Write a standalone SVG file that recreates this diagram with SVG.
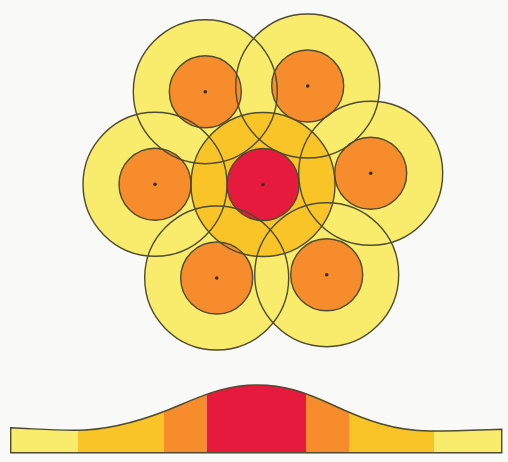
<svg xmlns="http://www.w3.org/2000/svg" width="508" height="462" viewBox="0 0 508 462">
<style>
.ln{stroke:#4f4b2e;stroke-width:1.4;fill:none}
.y{fill:#f9ec6c}
.g{fill:#f8c428}
.o{fill:#f68c2c}
.r{fill:#e61a3c}
.dot{fill:#3b2a1e}
</style>
<defs>
<path id="bellpath" d="M10.7,427.7 C40,429 60,431 85,430 C120,428 150,418 180,405 C210,392 230,385 257,385 C285,385 305,392 335,406 C365,420 395,431 430,431 C460,431 480,430 501.7,429.3 L501.7,452.7 L10.7,452.7 Z"/>
<clipPath id="bell"><use href="#bellpath"/></clipPath>
</defs>
<rect width="508" height="462" fill="#f9f9f8"/>
<g id="zones">
<circle class="y" cx="205.3" cy="91.7" r="72"/>
<circle class="y" cx="307.7" cy="86" r="72"/>
<circle class="y" cx="155" cy="184.3" r="72"/>
<circle class="y" cx="370.7" cy="173.3" r="72"/>
<circle class="y" cx="216.7" cy="278" r="72"/>
<circle class="y" cx="326.7" cy="274.7" r="72"/>
<circle class="g" cx="263" cy="184.5" r="72"/>
</g>
<g id="node-tl"><circle class="o" cx="205.3" cy="91.7" r="36"/></g>
<g id="node-tr"><circle class="o" cx="307.7" cy="86" r="36"/></g>
<g id="node-l"><circle class="o" cx="155" cy="184.3" r="36"/></g>
<g id="node-r"><circle class="o" cx="370.7" cy="173.3" r="36"/></g>
<g id="node-bl"><circle class="o" cx="216.7" cy="278" r="36"/></g>
<g id="node-br"><circle class="o" cx="326.7" cy="274.7" r="36"/></g>
<g id="node-center"><circle class="r" cx="263" cy="184.5" r="36"/></g>
<g id="connectors"></g>
<g id="outlines">
<circle class="ln" cx="205.3" cy="91.7" r="72"/>
<circle class="ln" cx="307.7" cy="86" r="72"/>
<circle class="ln" cx="155" cy="184.3" r="72"/>
<circle class="ln" cx="370.7" cy="173.3" r="72"/>
<circle class="ln" cx="216.7" cy="278" r="72"/>
<circle class="ln" cx="326.7" cy="274.7" r="72"/>
<circle class="ln" cx="263" cy="184.5" r="72"/>
<circle class="ln" cx="205.3" cy="91.7" r="36"/>
<circle class="ln" cx="307.7" cy="86" r="36"/>
<circle class="ln" cx="155" cy="184.3" r="36"/>
<circle class="ln" cx="370.7" cy="173.3" r="36"/>
<circle class="ln" cx="216.7" cy="278" r="36"/>
<circle class="ln" cx="326.7" cy="274.7" r="36"/>
<circle class="ln" cx="263" cy="184.5" r="36"/>
</g>
<g id="centres">
<circle class="dot" cx="205.3" cy="91.7" r="1.8"/>
<circle class="dot" cx="307.7" cy="86" r="1.8"/>
<circle class="dot" cx="155" cy="184.3" r="1.8"/>
<circle class="dot" cx="370.7" cy="173.3" r="1.8"/>
<circle class="dot" cx="216.7" cy="278" r="1.8"/>
<circle class="dot" cx="326.7" cy="274.7" r="1.8"/>
<circle class="dot" cx="263" cy="184.5" r="1.8"/>
</g>
<g id="profile">
<g clip-path="url(#bell)">
<rect class="y" x="10" y="380" width="68" height="75"/>
<rect class="g" x="78" y="380" width="86" height="75"/>
<rect class="o" x="164" y="380" width="42.7" height="75"/>
<rect class="r" x="206.7" y="380" width="99.3" height="75"/>
<rect class="o" x="306" y="380" width="43" height="75"/>
<rect class="g" x="349" y="380" width="85" height="75"/>
<rect class="y" x="434" y="380" width="68" height="75"/>
</g>
<use href="#bellpath" class="ln"/>
</g>
</svg>
